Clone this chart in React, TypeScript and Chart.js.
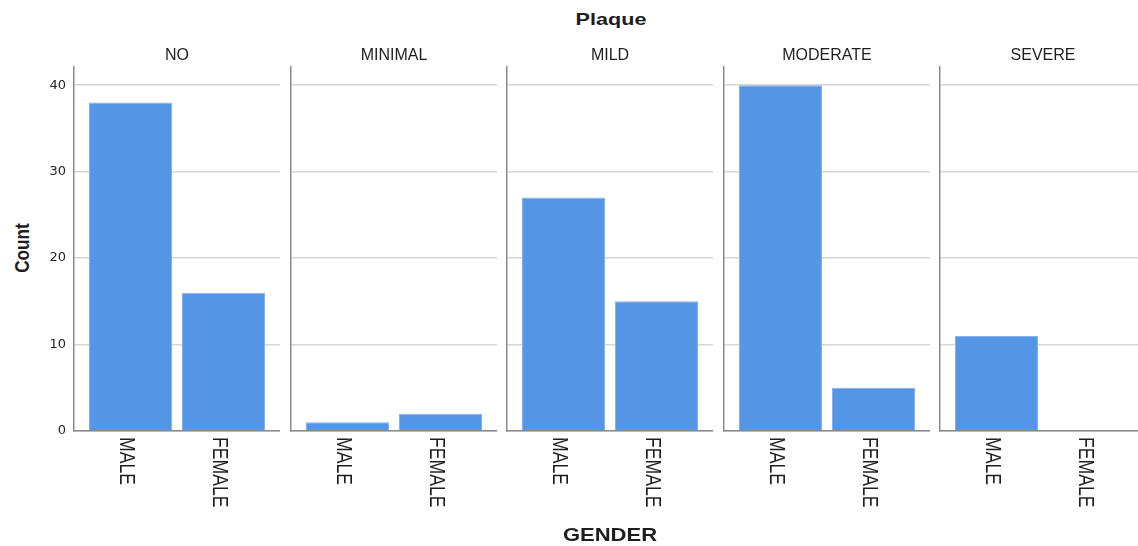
import React, { useEffect, useRef } from 'react';
import { Chart, registerables } from 'chart.js';

Chart.register(...registerables);

// ---- Data ----
const PANELS: string[] = ['NO', 'MINIMAL', 'MILD', 'MODERATE', 'SEVERE'];
const GENDERS: string[] = ['MALE', 'FEMALE'];
const MALE_COUNTS: number[] = [38, 1, 27, 40, 11];
const FEMALE_COUNTS: number[] = [16, 2, 15, 5, 0];
const Y_TICKS: number[] = [0, 10, 20, 30, 40];
const Y_MAX = 42.1;
const CHART_TITLE = 'Plaque';
const X_TITLE = 'GENDER';
const Y_TITLE = 'Count';

// ---- Layout ----
const PANEL_LEFT0 = 74;
const PANEL_STEP = 216.5;
const PANEL_W = 206;
const PLOT_TOP = 67;
const PLOT_BOTTOM = 431;
const CANVAS_TOP = 57;
const AXIS_W = 40;
const XAXIS_H = 90;

const BAR_COLOR = '#5595e5';
const AXIS_COLOR = '#8a8a8a';
const GRID_COLOR = '#d6d6d6';
const TEXT_COLOR = '#1e1e1e';
const FONT = '"Liberation Sans", Arial, sans-serif';

const labelPlugin = {
  id: 'rotatedGenderLabels',
  afterDraw(chart: any) {
    const { ctx, chartArea } = chart;
    const xs = chart.scales.x;
    ctx.save();
    ctx.fillStyle = TEXT_COLOR;
    ctx.font = '22px ' + FONT;
    ctx.textAlign = 'left';
    ctx.textBaseline = 'alphabetic';
    GENDERS.forEach((g, i) => {
      const px = xs.getPixelForValue(i);
      ctx.save();
      ctx.translate(px - 10.5, chartArea.bottom + 6);
      ctx.rotate(Math.PI / 2);
      ctx.scale(0.8, 1);
      ctx.fillText(g, 0, 0);
      ctx.restore();
    });
    ctx.restore();
  },
};

function PanelChart({ index }: { index: number }) {
  const ref = useRef<HTMLCanvasElement | null>(null);
  useEffect(() => {
    const values = [MALE_COUNTS[index], FEMALE_COUNTS[index]];
    const chart = new Chart(ref.current as HTMLCanvasElement, {
      type: 'bar',
      data: {
        datasets: [
          {
            data: GENDERS.map((g, i) => ({ x: i, y: values[i] })) as any,
            backgroundColor: BAR_COLOR,
            borderColor: '#86b2ec',
            borderWidth: (c: any) => (c.raw && c.raw.y > 0 ? 1 : 0),
            barPercentage: 83 / 93,
            categoryPercentage: 1,
          } as any,
        ],
      },
      options: {
        responsive: false,
        animation: false,
        layout: { padding: { top: PLOT_TOP - CANVAS_TOP, left: 0, right: 0, bottom: 0 } },
        plugins: { legend: { display: false }, tooltip: { enabled: false }, title: { display: false } },
        scales: {
          x: {
            type: 'linear',
            offset: false,
            min: -0.6075,
            max: 1.6075,
            afterBuildTicks: (s: any) => {
              s.ticks = GENDERS.map((g, i) => ({ value: i }));
            },
            grid: { display: false, offset: false },
            ticks: { display: false },
            border: { display: true, color: AXIS_COLOR, width: 1.5 },
            afterFit: (s: any) => {
              s.height = XAXIS_H;
              s.paddingLeft = 0;
              s.paddingRight = 0;
            },
          },
          y: {
            min: 0,
            max: Y_MAX,
            afterBuildTicks: (s: any) => {
              s.ticks = Y_TICKS.map((v) => ({ value: v }));
            },
            grid: { color: GRID_COLOR, lineWidth: 1.5, drawTicks: false },
            border: { display: true, color: AXIS_COLOR, width: 1.5 },
            ticks: {
              display: index === 0,
              padding: 8,
              color: '#222',
              font: { family: '"DejaVu Sans", sans-serif', size: 13 },
            },
            afterFit: (s: any) => {
              s.width = AXIS_W;
              s.paddingTop = 0;
              s.paddingBottom = 0;
            },
          },
        },
      } as any,
      plugins: [labelPlugin],
    });
    return () => chart.destroy();
  }, [index]);

  const left = Math.round(PANEL_LEFT0 + index * PANEL_STEP) - AXIS_W;
  const w = AXIS_W + PANEL_W;
  const h = PLOT_BOTTOM - CANVAS_TOP + XAXIS_H;
  return (
    <canvas
      ref={ref}
      width={w}
      height={h}
      style={{ position: 'absolute', left, top: CANVAS_TOP, width: w, height: h }}
    />
  );
}

export default function App() {
  return (
    <div
      style={{
        position: 'fixed',
        left: 0,
        top: 0,
        width: 1138,
        height: 546,
        overflow: 'hidden',
        background: '#fff',
        fontFamily: FONT,
        color: TEXT_COLOR,
      }}
    >
      {PANELS.map((p, i) => (
        <PanelChart key={p} index={i} />
      ))}
      {PANELS.map((p, i) => (
        <div
          key={'h' + p}
          style={{
            position: 'absolute',
            left: Math.round(PANEL_LEFT0 + i * PANEL_STEP) + PANEL_W / 2,
            top: 46.5,
            fontSize: 16,
            lineHeight: '16px',
            whiteSpace: 'nowrap',
            transform: 'translateX(-50%)',
          }}
        >
          {p}
        </div>
      ))}
      <div
        style={{
          position: 'absolute',
          left: 610.5,
          top: 11.3,
          fontSize: 17,
          lineHeight: '17px',
          fontWeight: 'bold',
          whiteSpace: 'nowrap',
          transform: 'translateX(-50%) scaleX(1.27)',
        }}
      >
        {CHART_TITLE}
      </div>
      <div
        style={{
          position: 'absolute',
          left: 610,
          top: 526,
          fontSize: 18.5,
          lineHeight: '18.5px',
          fontWeight: 'bold',
          whiteSpace: 'nowrap',
          transform: 'translateX(-50%) scaleX(1.19)',
        }}
      >
        {X_TITLE}
      </div>
      <div
        style={{
          position: 'absolute',
          left: 20.5,
          top: 247.7,
          fontSize: 21,
          lineHeight: '21px',
          fontWeight: 'bold',
          whiteSpace: 'nowrap',
          transform: 'translate(-50%, -50%) rotate(-90deg) scaleX(0.82)',
        }}
      >
        {Y_TITLE}
      </div>
    </div>
  );
}
